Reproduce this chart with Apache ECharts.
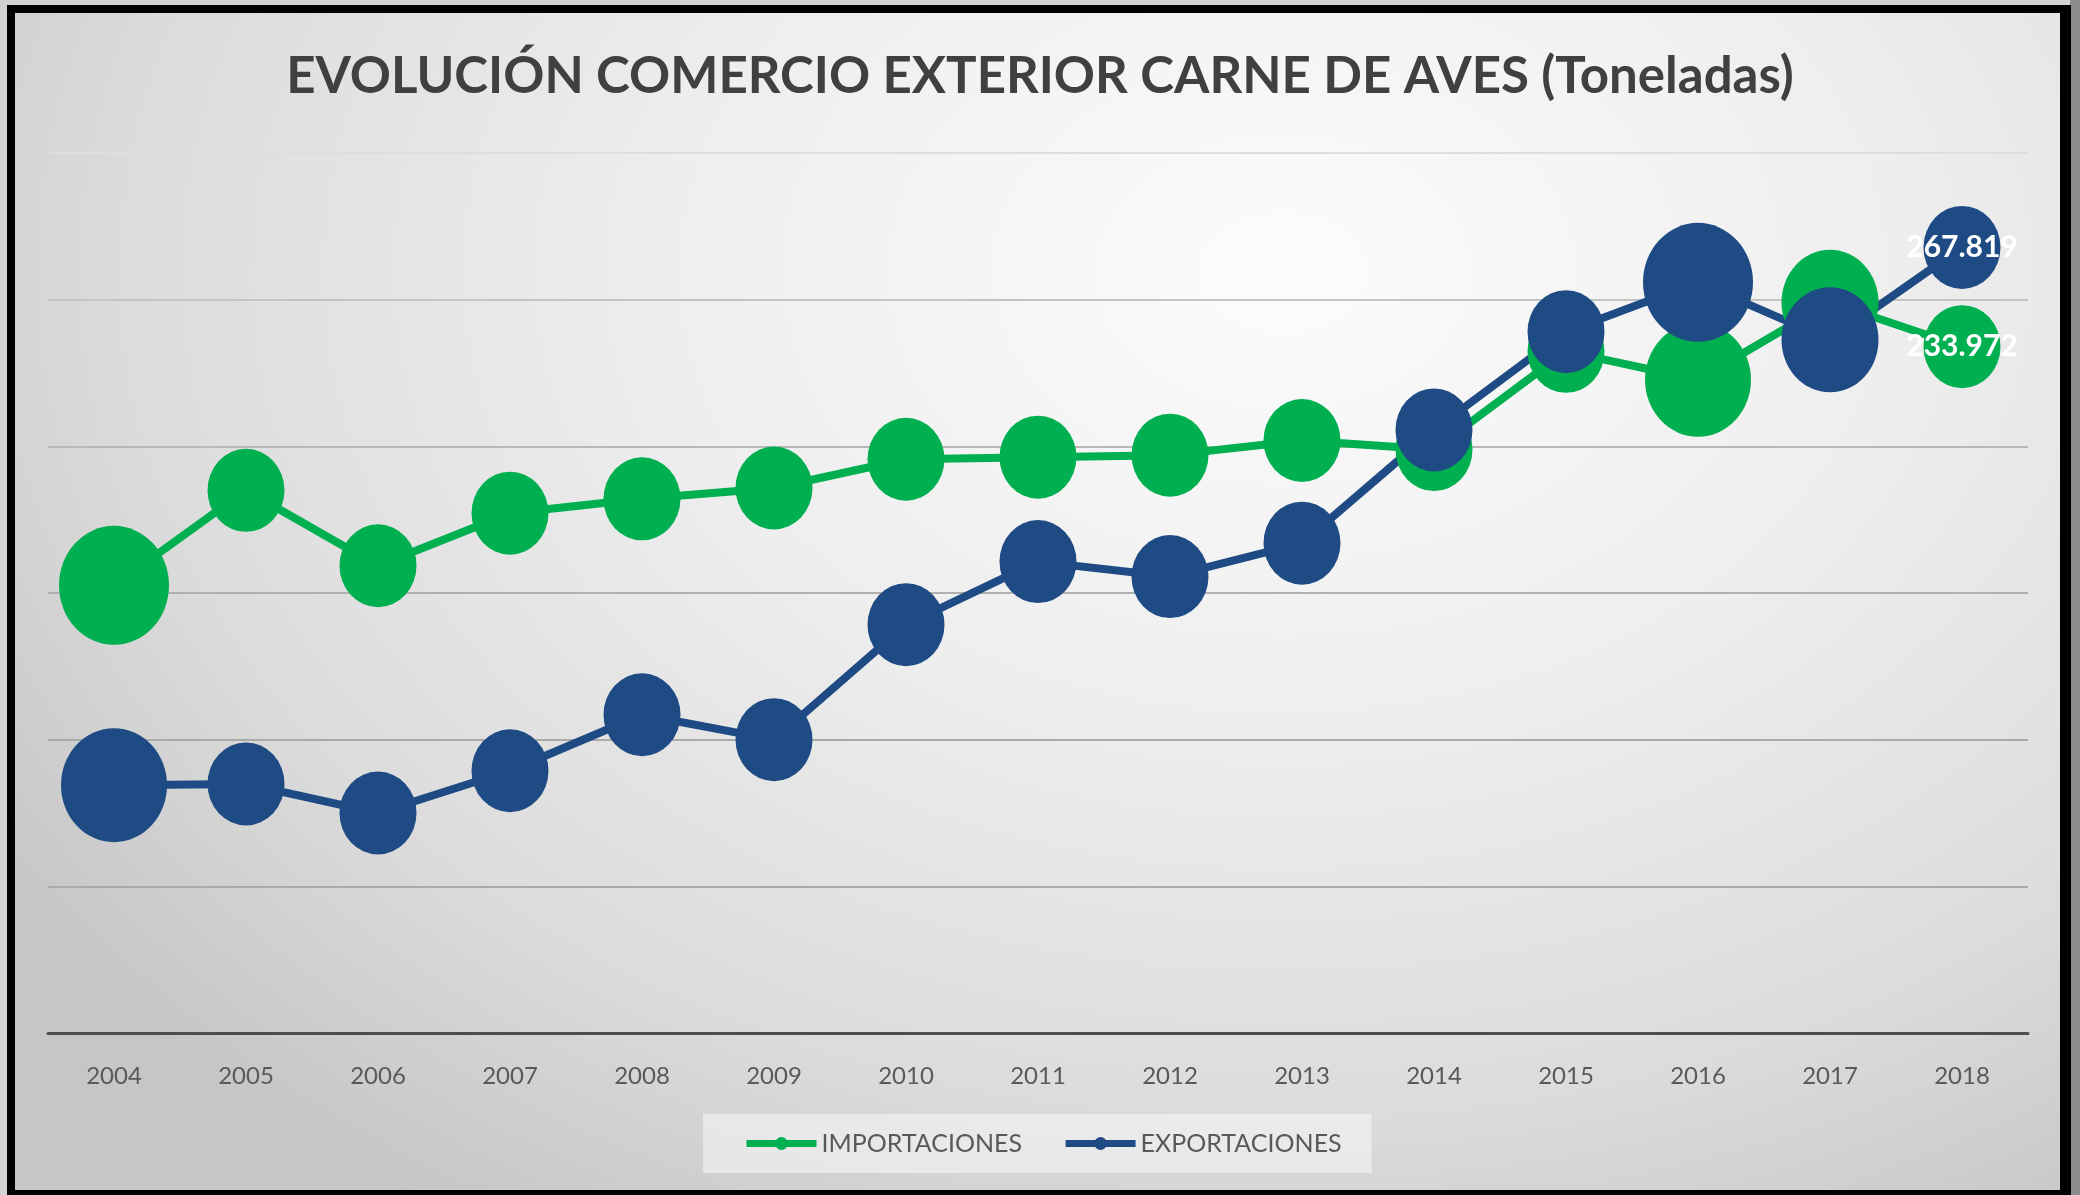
<!DOCTYPE html>
<html>
<head>
<meta charset="utf-8">
<title>Evolución comercio exterior carne de aves</title>
<script src="https://cdn.jsdelivr.net/npm/echarts@6/dist/echarts.min.js"></script>
<style>
  html, body { margin: 0; padding: 0; width: 2080px; height: 1195px; overflow: hidden; background: #d2d2d2; }
  #strip { position: absolute; left: 2070px; top: 0; width: 10px; height: 1195px; background: #8c8c8c; }
  #frame {
    position: absolute; left: 7px; top: 5px; width: 2045px; height: 1177px;
    border: 8px solid #000; border-right-width: 11px;
    background: radial-gradient(ellipse 75% 95% at 62% 22%, #fcfcfc 0%, #eeeeee 40%, #dcdcdc 75%, #c6c6c6 100%);
  }
  #main { position: absolute; left: 0; top: 0; width: 2080px; height: 1195px; }
</style>
</head>
<body>
<div id="strip"></div>
<div id="frame"></div>
<div id="main"></div>
<script>
  // datos (toneladas)
  var years = ['2004','2005','2006','2007','2008','2009','2010','2011','2012','2013','2014','2015','2016','2017','2018'];
  var importaciones = [152600, 185000, 159300, 177200, 182100, 185800, 195600, 196300, 197000, 202000, 198900, 232400, 222700, 249100, 233972];
  var exportaciones = [84500, 84900, 75000, 89400, 108500, 100000, 139200, 160700, 155600, 167000, 205600, 239100, 255900, 236300, 267819];
  var yTicks = [0, 50000, 100000, 150000, 200000, 250000, 300000];

  // tamaño de los marcadores (ancho en px), el resto usa el tamaño normal
  var markNormal = 77;
  var markBigImp = { '2004': 110, '2016': 106, '2017': 97 };
  var markBigExp = { '2004': 106, '2016': 110, '2017': 97 };

  var verde = '#00AF50';
  var azul = '#1F4B84';

  function fmtMiles(v) {
    return String(Math.round(v)).replace(/\B(?=(\d{3})+(?!\d))/g, '.');
  }
  function sizeFn(big) {
    return function (val, params) {
      var w = big[years[params.dataIndex]] || markNormal;
      return [w, Math.round(w * 1.08)];
    };
  }
  function lastLabel(p) {
    return p.dataIndex === years.length - 1 ? fmtMiles(p.value) : '';
  }

  var myChart = echarts.init(document.getElementById('main'));

  var option = {
    backgroundColor: 'transparent',
    animation: false,
    title: {
      text: 'EVOLUCIÓN COMERCIO EXTERIOR CARNE DE AVES (Toneladas)',
      left: 'center',
      top: 46,
      textStyle: {
        fontFamily: 'Lato',
        fontWeight: 'bold',
        fontSize: 51,
        color: '#404040'
      }
    },
    legend: {
      data: ['IMPORTACIONES', 'EXPORTACIONES'],
      left: 703,
      top: 1114,
      padding: [17, 30, 17, 40],
      itemGap: 40,
      itemWidth: 70,
      itemHeight: 16,
      backgroundColor: 'rgba(245,245,245,0.6)',
      lineStyle: { width: 7 },
      textStyle: {
        fontFamily: 'Lato',
        fontSize: 25,
        color: '#595959'
      }
    },
    grid: {
      left: 48,
      right: 52,
      top: 153,
      bottom: 162
    },
    xAxis: {
      type: 'category',
      data: years,
      boundaryGap: true,
      axisLine: { lineStyle: { color: '#4d4d4d', width: 3 } },
      axisTick: { show: false },
      axisLabel: {
        margin: 31,
        fontFamily: 'Lato',
        fontSize: 24,
        color: '#595959'
      }
    },
    yAxis: {
      type: 'value',
      min: yTicks[0],
      max: yTicks[yTicks.length - 1],
      interval: yTicks[1] - yTicks[0],
      axisLine: { show: false },
      axisTick: { show: false },
      axisLabel: { show: false },
      splitLine: {
        lineStyle: {
          color: ['#aaaaaa', '#aaaaaa', '#aaaaaa', '#b0b0b0', '#b8b8b8', '#c4c4c4', '#dedede'],
          width: 2
        }
      }
    },
    series: [
      {
        name: 'IMPORTACIONES',
        type: 'line',
        data: importaciones,
        symbol: 'circle',
        symbolSize: sizeFn(markBigImp),
        lineStyle: { color: verde, width: 8 },
        itemStyle: { color: verde },
        label: {
          show: true,
          position: 'inside',
          formatter: lastLabel,
          color: '#ffffff',
          fontFamily: 'Lato',
          fontWeight: 'bold',
          fontSize: 30
        }
      },
      {
        name: 'EXPORTACIONES',
        type: 'line',
        data: exportaciones,
        symbol: 'circle',
        symbolSize: sizeFn(markBigExp),
        lineStyle: { color: azul, width: 8 },
        itemStyle: { color: azul },
        label: {
          show: true,
          position: 'inside',
          formatter: lastLabel,
          color: '#ffffff',
          fontFamily: 'Lato',
          fontWeight: 'bold',
          fontSize: 30
        }
      }
    ]
  };

  myChart.setOption(option);
</script>
</body>
</html>
